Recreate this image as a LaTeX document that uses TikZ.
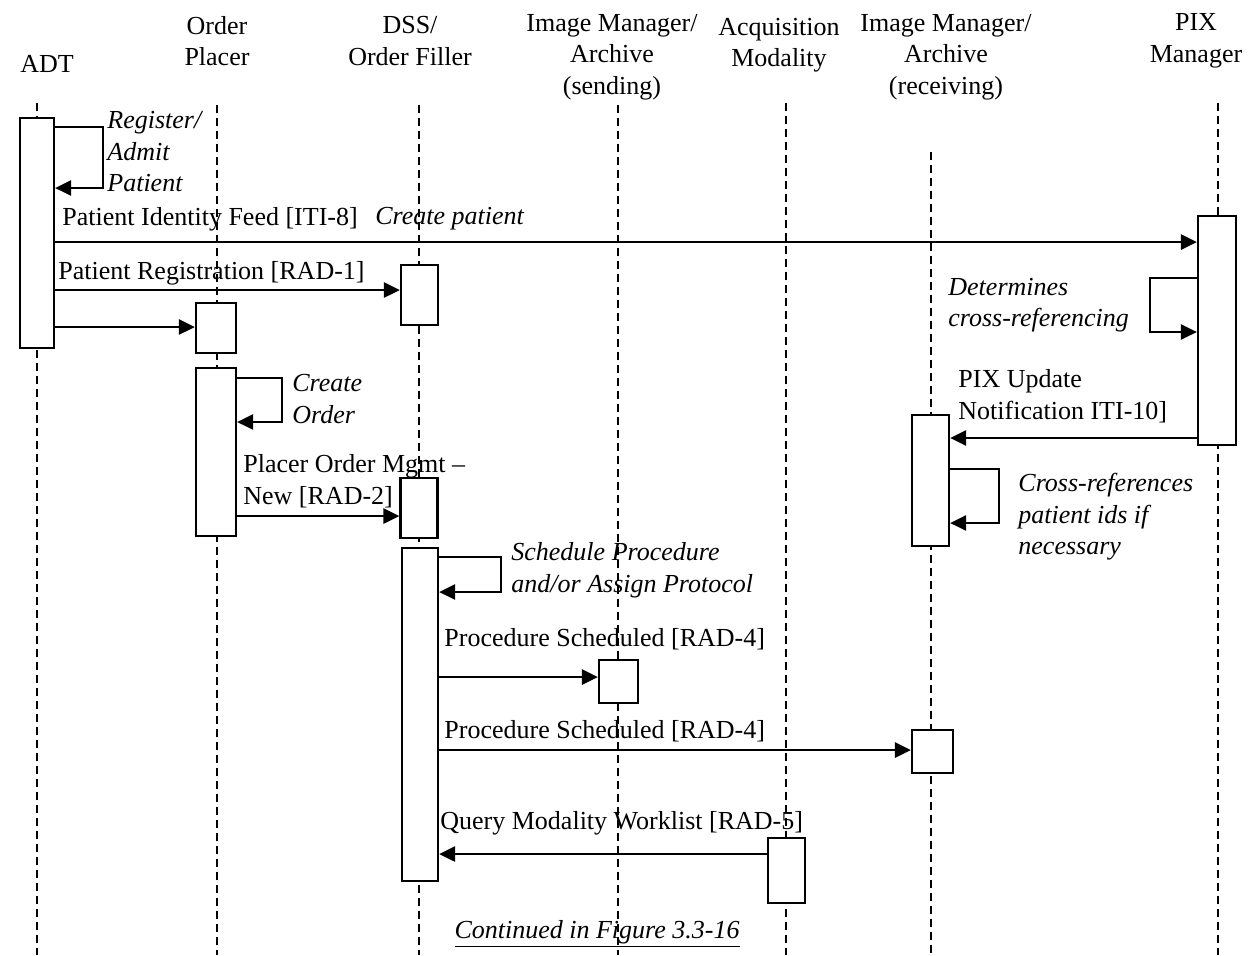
\documentclass[tikz,border=0pt]{standalone}
\usepackage{fontspec}
\setmainfont{Liberation Serif}
\usetikzlibrary{arrows.meta}
\newcommand{\diagfont}{\fontsize{13}{15.75}\selectfont}
\tikzset{
  >={Triangle[length=8pt,width=7.5pt]},
  act/.style ={draw, line width=1.1pt, fill=white, inner sep=0pt},
  life/.style={dash pattern=on 4pt off 2.5pt, line width=1pt},
  hdr/.style ={align=center, inner sep=0pt},
  arr/.style ={->, line width=1.4pt},
  self/.style={->, line width=1.2pt},
  lbl/.style ={anchor=west, align=left, inner sep=0pt},
  note/.style={lbl, font=\diagfont\itshape},
}

\begin{document}
\begin{tikzpicture}[x=0.5pt, y=-0.5pt, font=\diagfont]
  \useasboundingbox (0,0) rectangle (1257,955);

  % actors
  \node[hdr] (hadt) at (47,64)   {ADT};
  \node[hdr] (hop)  at (217,41)  {Order\\Placer};
  \node[hdr] (hdss) at (410,41)  {DSS/\\Order Filler};
  \node[hdr] (hims) at (612,57)  {Image Manager/\\Archive\\(sending)};
  \node[hdr] (ham)  at (779,45)  {Acquisition\\Modality};
  \node[hdr] (himr) at (946,57)  {Image Manager/\\Archive\\(receiving)};
  \node[hdr] (hpix) at (1196,41) {PIX\\Manager};

  % lifelines
  \coordinate (adt) at (37,103);
  \coordinate (op)  at (217,105);
  \coordinate (dss) at (419,105);
  \coordinate (ims) at (618,105);
  \coordinate (am)  at (786,103);
  \coordinate (imr) at (931,152);
  \coordinate (pix) at (1218,103);
  \foreach \l in {adt,op,dss,ims,am,imr,pix}
    \draw[life] (\l) -- (\l |- 0,955);

  % activation boxes
  \node[act, minimum width=17pt,   minimum height=115pt]   (adtA) at (37,233)     {};
  \node[act, minimum width=20pt,   minimum height=25pt]    (opA)  at (216,328)    {};
  \node[act, minimum width=20pt,   minimum height=84pt]    (opB)  at (216,452)    {};
  \node[act, minimum width=18.5pt, minimum height=30pt]    (dssA) at (419.5,295)  {};
  \node[act, minimum width=18.5pt, minimum height=30pt]    (dssB) at (419,508)    {};
  \node[act, minimum width=18pt,   minimum height=166.5pt] (dssC) at (420,714.5)  {};
  \node[act, minimum width=19.5pt, minimum height=21.5pt]  (imsA) at (618.5,681.5){};
  \node[act, minimum width=18.5pt, minimum height=32.5pt]  (amA)  at (786.5,870.5){};
  \node[act, minimum width=18.5pt, minimum height=65.5pt]  (imrA) at (930.5,480.5){};
  \node[act, minimum width=20.5pt, minimum height=21.5pt]  (imrB) at (932.5,751.5){};
  \node[act, minimum width=19pt,   minimum height=114.5pt] (pixA) at (1217,330.5) {};

  % messages
  \draw[self] (adtA.east |- 0,127) -- (103,127) -- (103,188) -- (adtA.east |- 0,188);
  \node[note] (regadmit) at (107,152) {Register/\\Admit\\Patient};

  \draw[arr] (adtA.east |- 0,242) -- (pixA.west |- 0,242);
  \node[lbl] (pif) at (62,219) {Patient Identity Feed [ITI-8]};
  \node[note] (crpat) at (375,219) {Create patient};

  \draw[arr] (adtA.east |- 0,290) -- (dssA.west |- 0,290);
  \node[lbl] (preg) at (58,273) {Patient Registration [RAD-1]};

  \draw[arr] (adtA.east |- 0,327) -- (opA.west |- 0,327);

  \draw[self] (opB.east |- 0,378) -- (282,378) -- (282,422) -- (opB.east |- 0,422);
  \node[note] (crord) at (292,399) {Create\\Order};

  \draw[arr] (opB.east |- 0,516) -- (dssB.west |- 0,516);
  \node[lbl] (pom) at (243,481) {Placer Order Mgmt –\\New [RAD-2]};

  \draw[self] (dssC.east |- 0,557) -- (501,557) -- (501,592) -- (dssC.east |- 0,592);
  \node[note] (sched) at (511,570) {Schedule Procedure\\and/or Assign Protocol};

  \draw[arr] (dssC.east |- 0,677) -- (imsA.west |- 0,677);
  \node[lbl] (ps1) at (444,639) {Procedure Scheduled [RAD-4]};

  \draw[arr] (dssC.east |- 0,750) -- (imrB.west |- 0,750);
  \node[lbl] (ps2) at (444,731) {Procedure Scheduled [RAD-4]};

  \draw[arr] (amA.west |- 0,854) -- (dssC.east |- 0,854);
  \node[lbl] (qmw) at (440,823) {Query Modality Worklist [RAD-5]};

  % PIX side
  \draw[self] (pixA.west |- 0,278) -- (1150,278) -- (1150,332) -- (pixA.west |- 0,332);
  \node[note] (detx) at (948,305) {Determines\\cross-referencing};

  \draw[arr] (pixA.west |- 0,438) -- (imrA.east |- 0,438);
  \node[lbl] (pixupd) at (958,396) {PIX Update\\Notification ITI-10]};

  \draw[self] (imrA.east |- 0,469) -- (999,469) -- (999,523) -- (imrA.east |- 0,523);
  \node[note] (xref) at (1018,517) {Cross-references\\patient ids if\\necessary};

  \node[inner sep=0pt, font=\diagfont\itshape] (cont) at (597,934) {\underline{Continued in Figure 3.3-16}};
\end{tikzpicture}
\end{document}
